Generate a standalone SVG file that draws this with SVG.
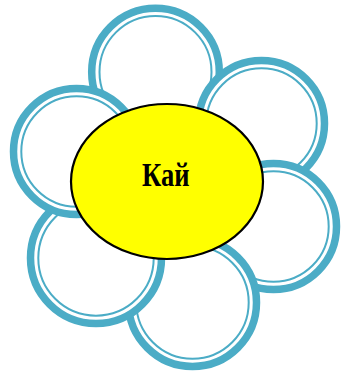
<svg xmlns="http://www.w3.org/2000/svg" width="341" height="373" viewBox="0 0 341 373">
<style>
.outer{fill:#fff;stroke:#4BACC6;stroke-width:7.5}
.inner{fill:none;stroke:#4BACC6;stroke-width:2}
.center{fill:#FFFF00;stroke:#000;stroke-width:2.2}
.label{font-family:"Liberation Serif","Times New Roman",serif;font-weight:bold;font-size:33px;fill:#000}
</style>
<rect width="341" height="373" fill="#fff"/>
<g id="petal-top"><circle class="outer" cx="155.5" cy="72" r="63.8"/><circle class="inner" cx="155.5" cy="72" r="56"/></g>
<g id="petal-upper-right"><circle class="outer" cx="261.5" cy="123.5" r="63"/><circle class="inner" cx="261.5" cy="123.5" r="55.2"/></g>
<g id="petal-lower-right"><circle class="outer" cx="273.5" cy="226.5" r="63"/><circle class="inner" cx="273.5" cy="226.5" r="55.2"/></g>
<g id="petal-bottom"><circle class="outer" cx="192.5" cy="302.5" r="64"/><circle class="inner" cx="192.5" cy="302.5" r="56.2"/></g>
<g id="petal-lower-left"><circle class="outer" cx="96" cy="258" r="65.5"/><circle class="inner" cx="96" cy="258" r="57.7"/></g>
<g id="petal-upper-left"><circle class="outer" cx="76.5" cy="151.5" r="63"/><circle class="inner" cx="76.5" cy="151.5" r="55.2"/></g>
<g id="center"><ellipse class="center" cx="167" cy="181.5" rx="96" ry="77.5"/><text class="label" x="142" y="185.5" textLength="47.5" lengthAdjust="spacingAndGlyphs">Кай</text></g>
<g id="connectors"></g>
</svg>
